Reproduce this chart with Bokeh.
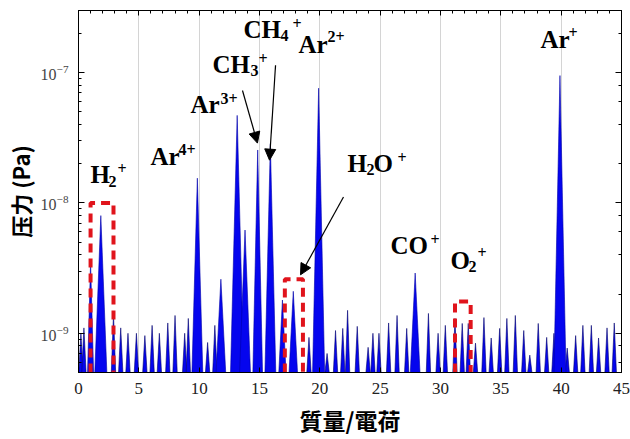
import numpy as np
from bokeh.plotting import figure
from bokeh.models import (Range1d, LinearAxis, LogAxis, SingleIntervalTicker, LogTicker,
                          Arrow, NormalHead, Label)
from bokeh.embed import file_html
from bokeh.resources import INLINE

# ---------------- data ----------------
# main peaks: mass/charge, pressure (Pa), half width of peak base
peak_mass = [1.0, 1.85, 9.85, 11.8, 13.15, 13.8, 14.85, 15.9, 16.9, 17.8, 19.9, 27.9, 39.9]
peak_pressure = [3.5e-9, 8.0e-9, 1.55e-8, 2.6e-9, 4.7e-8, 6.2e-9, 2.55e-8, 2.85e-8,
                 1.8e-9, 2.1e-9, 7.6e-8, 2.9e-9, 9.5e-8]
peak_halfwidth = [0.25, 0.5, 0.45, 0.4, 0.55, 0.45, 0.4, 0.45, 0.3, 0.35, 0.5, 0.4, 0.5]

# small background peaks
noise_mass = [0.2, 0.45, 2.9, 3.5, 4.1, 4.8, 5.5, 6.1, 6.7, 7.4, 8.0, 8.8, 9.1, 10.7, 11.3,
              19.1, 20.6, 21.3, 21.9, 22.3, 23.1, 24.0, 24.4, 24.9, 25.7, 26.4, 27.2,
              29.0, 29.8, 30.4, 31.2, 31.8, 32.3, 32.9, 33.6, 34.2, 34.9, 35.5, 36.2,
              36.9, 37.4, 38.1, 38.8, 39.4, 40.5, 41.2, 41.8, 42.5, 43.1, 43.8, 44.4]
noise_pressure = [1.0e-9, 1.1e-9, 1.4e-9, 1.1e-9, 1.0e-9, 1.0e-9, 0.96e-9, 1.15e-9, 1.0e-9,
                  1.2e-9, 1.37e-9, 1.0e-9, 1.3e-9, 0.85e-9, 1.15e-9,
                  0.93e-9, 0.7e-9, 1.05e-9, 1.09e-9, 1.5e-9, 1.13e-9, 0.78e-9, 1.0e-9,
                  1.0e-9, 1.2e-9, 1.37e-9, 1.09e-9,
                  1.42e-9, 1.0e-9, 1.15e-9, 1.3e-9, 1.19e-9, 1.19e-9, 0.84e-9, 1.32e-9,
                  0.92e-9, 1.09e-9, 1.3e-9, 1.37e-9, 1.05e-9, 0.68e-9, 1.19e-9, 0.93e-9,
                  1.0e-9, 0.77e-9, 0.96e-9, 1.15e-9, 1.15e-9, 0.92e-9, 1.1e-9, 1.2e-9]
noise_halfwidth = 0.18

# dashed boxes (H2+, H2O+, O2+)
box_left = [1.0, 17.1, 31.2]
box_right = [2.9, 18.6, 32.5]
box_top = [1.0e-8, 2.6e-9, 1.75e-9]

x_ticks_step = 5
y_floor = 5e-10
y_top = 3e-7

# ---------------- figure ----------------
p = figure(width=630, height=439, x_range=Range1d(0, 45), y_range=Range1d(y_floor, y_top),
           y_axis_type="log", output_backend="svg", toolbar_location=None,
           min_border_left=78, min_border_right=9, min_border_top=10, min_border_bottom=66)
p.background_fill_color = "white"
p.border_fill_color = "white"
p.outline_line_color = "black"
p.outline_line_width = 1

# grid
p.xgrid.grid_line_color = "#d4d4d4"
p.xgrid.grid_line_width = 1
p.ygrid.grid_line_color = None

# peaks as filled spikes
nxs = [[c - noise_halfwidth, c, c + noise_halfwidth] for c in noise_mass]
nys = [[y_floor, h, y_floor] for h in noise_pressure]
p.patches(nxs, nys, fill_color="#0505ee", line_color="#00006e", line_width=0.6)

pxs = [[c - w, c, c + w] for c, w in zip(peak_mass, peak_halfwidth)]
pys = [[y_floor, h, y_floor] for h in peak_pressure]
p.patches(pxs, pys, fill_color="#0505ee", line_color="#0000aa", line_width=0.6)

# red dashed boxes
bxs = [[l, l, r, r] for l, r in zip(box_left, box_right)]
bys = [[y_floor, t, t, y_floor] for t in box_top]
p.multi_line(bxs, bys, line_color="#e0141c", line_width=4, line_dash="9 6")

# axes
tick_font = "Liberation Serif"
xa = p.xaxis[0]
xa.ticker = SingleIntervalTicker(interval=x_ticks_step, num_minor_ticks=5)
xa.major_tick_in = 5
xa.major_tick_out = 0
xa.minor_tick_in = 0
xa.minor_tick_out = 0
xa.major_label_text_font = tick_font
xa.major_label_text_font_size = "17px"
xa.major_label_text_color = "#222222"
xa.major_label_standoff = 10
xa.axis_label = "質量/電荷"
xa.axis_label_text_font = "Noto Sans CJK TC"
xa.axis_label_text_font_style = "bold"
xa.axis_label_text_font_size = "23px"
xa.axis_label_text_color = "black"
xa.axis_label_standoff = 6
xa.axis_line_color = "black"

ya = p.yaxis[0]
ya.major_tick_in = 6
ya.major_tick_out = 0
ya.minor_tick_in = 3
ya.minor_tick_out = 0
ya.major_label_text_font = tick_font
ya.major_label_text_font_size = "16px"
ya.major_label_text_color = "#444444"
ya.major_label_standoff = 10
ya.axis_label = "压力 (Pa)"
ya.axis_label_text_font = "Noto Sans CJK SC"
ya.axis_label_text_font_style = "bold"
ya.axis_label_text_font_size = "22px"
ya.axis_label_text_color = "black"
ya.axis_label_standoff = 2
ya.axis_line_color = "black"

top = LinearAxis(ticker=SingleIntervalTicker(interval=x_ticks_step, num_minor_ticks=5),
                 major_tick_in=5, major_tick_out=0, minor_tick_in=3, minor_tick_out=0,
                 major_label_text_font_size="1px", major_label_text_color=None,
                 major_label_standoff=0, axis_line_color="black")
p.add_layout(top, "above")
right = LogAxis(ticker=LogTicker(), major_tick_in=6, major_tick_out=0, minor_tick_in=3,
                minor_tick_out=0, major_label_text_font_size="1px",
                major_label_text_color=None, major_label_standoff=0,
                axis_line_color="black")
p.add_layout(right, "right")

# arrows
arrows = [
    (13.59, 7.3e-8, 14.83, 2.88e-8),
    (16.33, 1.14e-7, 15.83, 2.13e-8),
    (21.96, 1.11e-8, 18.40, 2.81e-9),
]
for xs_, ys_, xe_, ye_ in arrows:
    p.add_layout(Arrow(end=NormalHead(size=11, fill_color="black", line_color="black"),
                       x_start=xs_, y_start=ys_, x_end=xe_, y_end=ye_,
                       line_color="black", line_width=1.2))

# ion labels: anchor (x, y) = left/baseline of main text; parts (text, dx, dy, size)
MAIN, SCRIPT = 25, 16
LIFT = 9
ion_labels = [
    (0.99, 1.42e-8, [("H", 0, 0, MAIN), ("2", 18, -7, SCRIPT), ("+", 27, 6, SCRIPT)]),
    (5.97, 1.95e-8, [("Ar", 0, 0, MAIN), ("4+", 28, 7, SCRIPT)]),
    (9.28, 4.89e-8, [("Ar", 0, 0, MAIN), ("3+", 30, 6, SCRIPT)]),
    (11.1, 9.9e-8, [("CH", 0, 0, MAIN), ("3", 38, -6, SCRIPT), ("+", 46, 6, SCRIPT)]),
    (13.67, 1.83e-7, [("CH", 0, 0, MAIN), ("4", 37, -6, SCRIPT), ("+", 49, 6, SCRIPT)]),
    (18.23, 1.41e-7, [("Ar", 0, 0, MAIN), ("2+", 29, 8, SCRIPT)]),
    (22.29, 1.70e-8, [("H", 0, 0, MAIN), ("2", 19, -6, SCRIPT), ("O", 26, 0, MAIN), ("+", 50, 6, SCRIPT)]),
    (25.86, 4.0e-9, [("CO", 0, 0, MAIN), ("+", 40, 6, SCRIPT)]),
    (30.83, 3.07e-9, [("O", 0, 0, MAIN), ("2", 18, -6, SCRIPT), ("+", 27, 8, SCRIPT)]),
    (38.29, 1.54e-7, [("Ar", 0, 0, MAIN), ("+", 28, 7, SCRIPT)]),
]
for x0, y0, parts in ion_labels:
    for txt, dx, dy, size in parts:
        p.add_layout(Label(x=x0, y=y0, x_offset=dx, y_offset=dy + LIFT, text=txt,
                           text_font="Liberation Serif", text_font_style="bold",
                           text_font_size=f"{size}px", text_baseline="alphabetic",
                           text_align="left", text_color="black"))

open("out.html", "w").write(file_html(p, INLINE))
